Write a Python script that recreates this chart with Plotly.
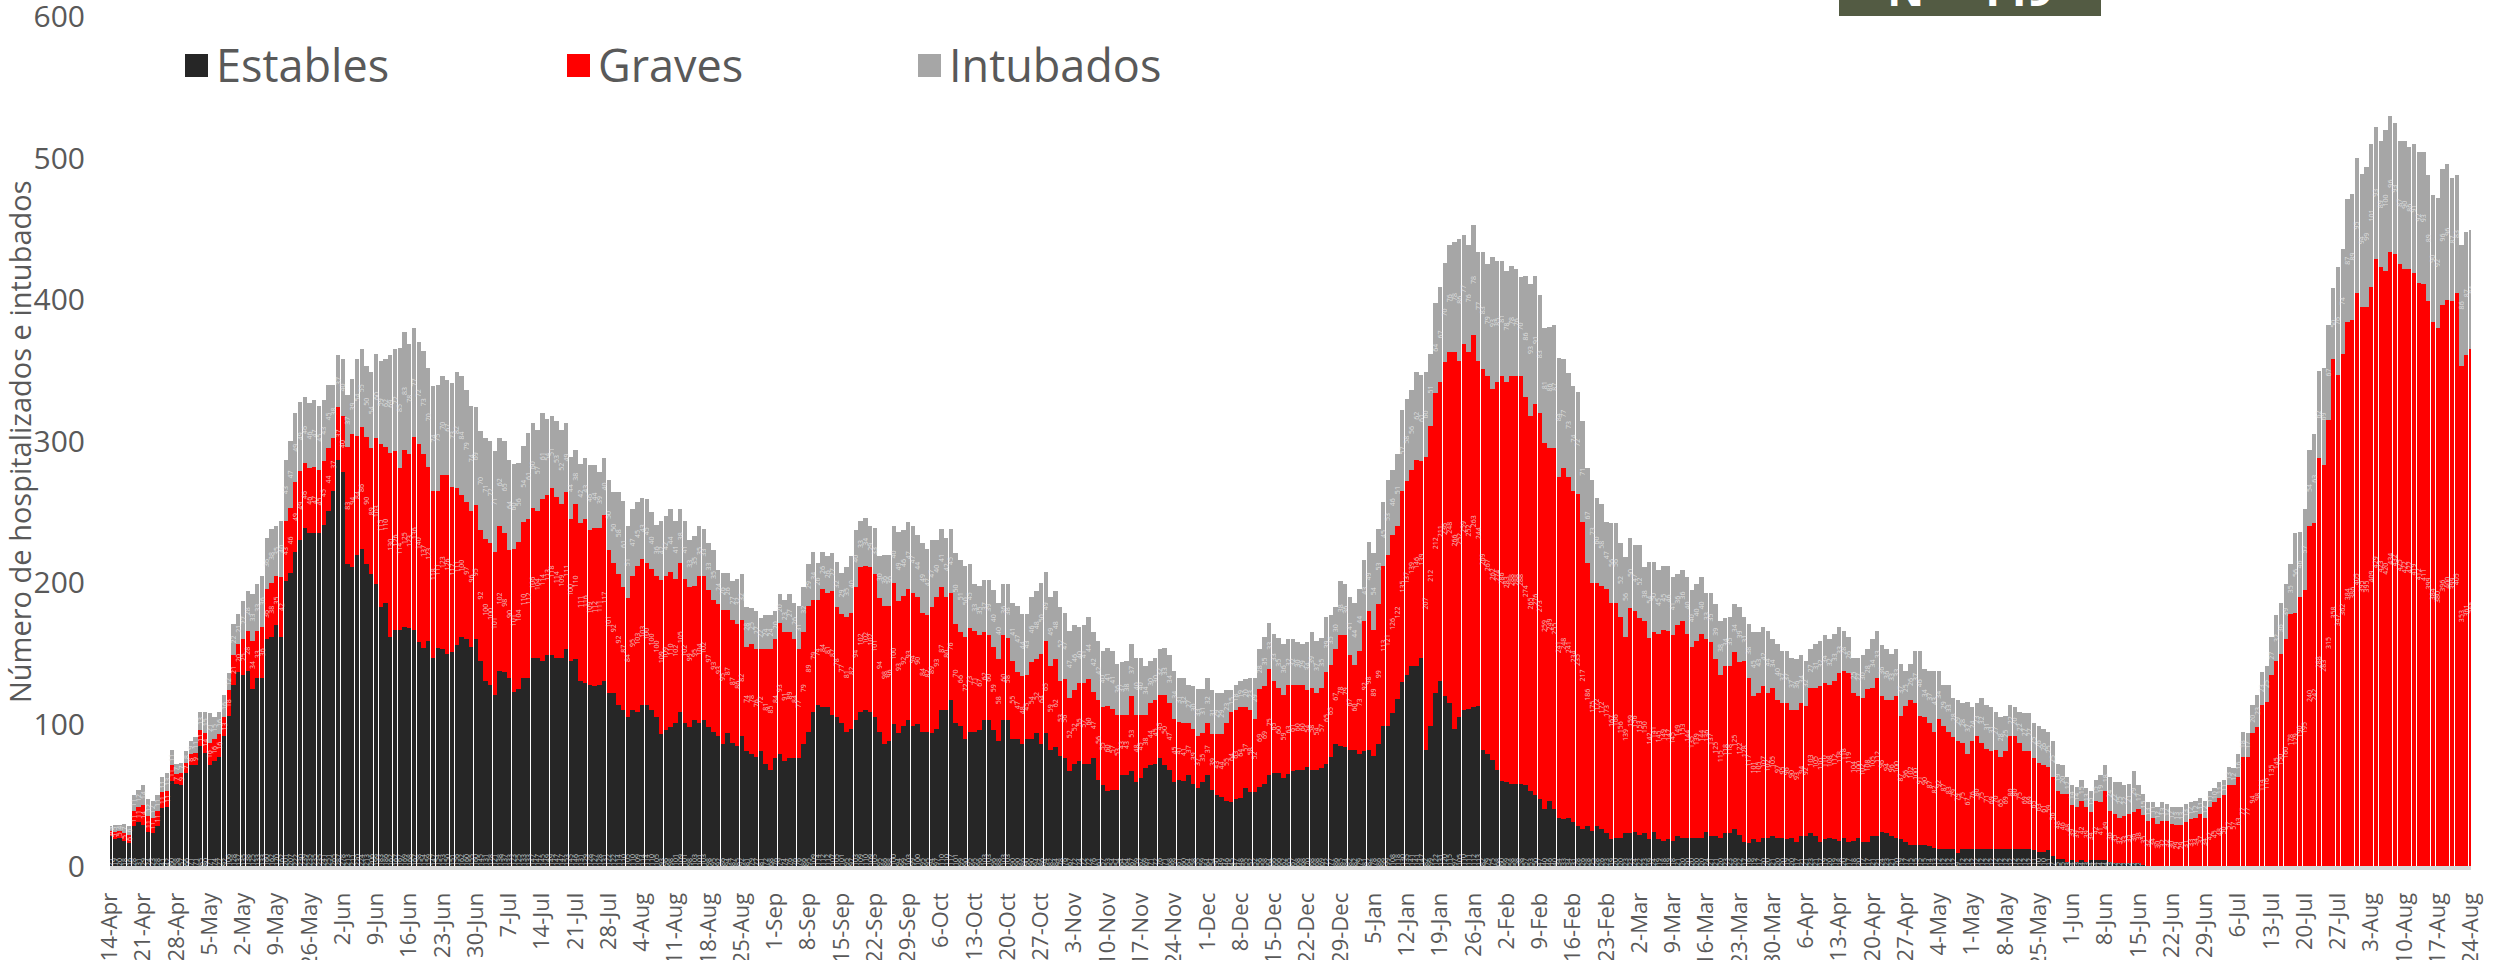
import datetime as dt
import plotly.graph_objects as go

start_date = "2020-04-14"

estables = [
    21, 19, 20, 18, 16, 28, 31,
    29, 24, 23, 28, 41, 42, 60,
    58, 57, 66, 71, 71, 85, 80,
    71, 74, 77, 92, 106, 128, 137,
    135, 138, 125, 133, 133, 160, 162,
    170, 162, 201, 207, 222, 230, 239,
    235, 235, 235, 241, 251, 265, 287,
    278, 213, 211, 220, 224, 213, 206,
    199, 183, 186, 162, 167, 167, 169,
    168, 167, 158, 154, 159, 147, 154,
    153, 150, 151, 156, 162, 160, 155,
    160, 145, 131, 128, 121, 138, 137,
    133, 123, 125, 133, 133, 147, 147,
    145, 149, 149, 147, 147, 153, 145,
    146, 131, 129, 128, 127, 128, 131,
    122, 122, 114, 110, 105, 110, 109,
    114, 114, 110, 105, 93, 96, 98,
    101, 109, 101, 98, 103, 101, 103,
    98, 95, 92, 86, 94, 87, 85,
    92, 81, 79, 77, 81, 72, 68,
    76, 79, 74, 76, 76, 76, 86,
    95, 109, 114, 112, 112, 107, 105,
    101, 95, 97, 103, 109, 110, 109,
    105, 95, 86, 88, 100, 94, 99,
    103, 99, 100, 95, 95, 94, 97,
    110, 110, 117, 101, 99, 90, 95,
    95, 96, 103, 103, 96, 88, 103,
    103, 90, 90, 86, 90, 90, 94,
    86, 94, 82, 84, 78, 76, 67,
    72, 74, 72, 72, 76, 61, 57,
    53, 54, 54, 64, 64, 67, 59,
    62, 69, 71, 72, 76, 71, 68,
    59, 61, 60, 64, 58, 55, 59,
    64, 54, 50, 49, 46, 45, 47,
    48, 55, 52, 52, 56, 58, 64,
    66, 66, 62, 65, 67, 68, 68,
    70, 68, 68, 69, 72, 77, 86,
    85, 84, 82, 82, 79, 81, 82,
    78, 86, 99, 99, 108, 118, 130,
    135, 141, 141, 147, 82, 99, 122,
    131, 120, 115, 97, 105, 110, 111,
    112, 113, 82, 79, 75, 68, 60,
    59, 58, 58, 58, 57, 53, 50,
    47, 40, 46, 40, 34, 33, 34,
    31, 28, 26, 28, 25, 28, 26,
    23, 19, 20, 20, 23, 23, 24,
    22, 23, 19, 24, 19, 18, 19,
    18, 21, 20, 20, 20, 20, 20,
    24, 21, 21, 20, 23, 23, 26,
    22, 17, 16, 19, 17, 20, 20,
    21, 20, 20, 19, 20, 17, 21,
    21, 23, 21, 17, 19, 20, 19,
    18, 20, 17, 18, 20, 17, 17,
    21, 21, 24, 23, 21, 20, 19,
    17, 15, 15, 15, 15, 14, 13,
    12, 12, 12, 12, 9, 12, 12,
    12, 12, 12, 12, 12, 12, 12,
    12, 12, 12, 12, 12, 12, 11,
    10, 10, 11, 7, 5, 5, 3,
    4, 3, 4, 3, 4, 4, 4,
    4, 3, 2, 2, 2, 2, 2,
    2, 1, 0, 0, 0, 0, 0,
    0, 0, 0, 0, 0, 0, 0,
    0, 0, 0, 0, 0, 0, 0,
    0, 0, 0, 0, 0, 0, 0,
    0, 0, 0, 0, 0, 0, 0,
    0, 0, 0, 0, 0, 0, 0,
    0, 0, 0, 0, 0, 0, 0,
    0, 0, 0, 0, 0, 0, 0,
    0, 0, 0, 0, 0, 0, 0,
    0, 0, 0, 0, 0, 0, 0,
    0,
]

graves = [
    4, 5, 5, 5, 6, 11, 11,
    14, 11, 11, 11, 11, 11, 11,
    7, 9, 7, 8, 9, 11, 14,
    16, 16, 16, 13, 18, 21, 20,
    25, 28, 34, 33, 36, 36, 38,
    35, 42, 43, 46, 49, 49, 46,
    46, 47, 45, 45, 44, 37, 37,
    40, 83, 94, 84, 86, 90, 89,
    103, 115, 110, 130, 126, 114, 125,
    123, 136, 140, 137, 123, 118, 111,
    123, 126, 117, 111, 100, 97, 96,
    95, 92, 100, 100, 101, 102, 98,
    90, 101, 104, 110, 112, 106, 104,
    114, 113, 118, 114, 109, 111, 100,
    110, 111, 116, 109, 112, 111, 117,
    101, 92, 92, 87, 84, 95, 103,
    103, 100, 100, 100, 109, 109, 110,
    102, 105, 102, 99, 95, 104, 102,
    97, 93, 93, 95, 87, 87, 86,
    82, 74, 78, 76, 72, 81, 85,
    84, 93, 91, 89, 84, 77, 79,
    89, 79, 74, 84, 81, 87, 78,
    77, 81, 82, 94, 102, 102, 102,
    101, 94, 98, 96, 100, 93, 92,
    93, 94, 90, 84, 82, 89, 93,
    87, 80, 76, 70, 66, 72, 73,
    71, 67, 62, 60, 59, 58, 60,
    58, 55, 47, 48, 45, 54, 52,
    64, 65, 59, 62, 53, 56, 52,
    52, 55, 57, 60, 47, 56, 55,
    60, 57, 53, 43, 43, 53, 48,
    45, 38, 44, 45, 45, 50, 47,
    45, 41, 41, 37, 39, 37, 35,
    37, 39, 43, 44, 55, 64, 63,
    64, 57, 58, 52, 69, 69, 75,
    65, 60, 59, 63, 61, 60, 60,
    54, 58, 54, 57, 65, 65, 67,
    78, 79, 67, 60, 73, 92, 98,
    89, 99, 113, 121, 126, 122, 135,
    137, 139, 146, 139, 207, 212, 212,
    211, 236, 248, 266, 252, 259, 252,
    263, 244, 269, 267, 262, 274, 286,
    283, 288, 288, 288, 274, 265, 276,
    273, 259, 249, 255, 241, 248, 241,
    234, 235, 217, 186, 175, 172, 172,
    173, 167, 166, 156, 139, 159, 156,
    153, 150, 142, 141, 145, 149, 147,
    145, 149, 153, 144, 135, 139, 144,
    136, 137, 125, 115, 118, 118, 125,
    122, 128, 117, 101, 105, 107, 102,
    105, 97, 95, 96, 90, 93, 94,
    92, 103, 105, 110, 110, 108, 112,
    118, 118, 119, 104, 100, 102, 108,
    105, 112, 96, 94, 96, 100, 87,
    96, 102, 100, 91, 90, 87, 82,
    92, 87, 83, 79, 79, 75, 67,
    76, 80, 75, 71, 69, 70, 65,
    69, 80, 80, 75, 69, 69, 65,
    63, 61, 59, 56, 48, 46, 48,
    39, 39, 42, 39, 34, 42, 41,
    49, 36, 35, 32, 33, 35, 36,
    38, 35, 32, 34, 30, 32, 32,
    30, 29, 29, 31, 33, 34, 37,
    34, 42, 45, 48, 50, 57, 57,
    63, 77, 77, 94, 98, 114, 116,
    135, 145, 150, 160, 178, 179, 190,
    195, 240, 242, 288, 283, 315, 358,
    347, 362, 384, 386, 405, 395, 395,
    409, 429, 423, 420, 434, 432, 425,
    422, 422, 419, 412, 411, 399, 384,
    380, 396, 400, 399, 405, 353, 361,
    365,
]

intubados = [
    3, 5, 4, 7, 6, 11, 12,
    14, 12, 12, 11, 11, 13, 11,
    7, 7, 8, 9, 11, 13, 15,
    21, 15, 16, 16, 12, 22, 21,
    27, 28, 33, 33, 36, 36, 38,
    35, 40, 43, 47, 49, 49, 46,
    46, 47, 45, 43, 45, 38, 37,
    40, 37, 39, 54, 55, 50, 54,
    60, 59, 62, 69, 72, 85, 83,
    78, 77, 72, 73, 70, 74, 75,
    70, 67, 73, 82, 84, 79, 74,
    69, 70, 71, 72, 71, 62, 65,
    64, 60, 56, 54, 61, 60, 57,
    61, 54, 51, 53, 52, 49, 44,
    38, 42, 43, 46, 44, 39, 40,
    50, 50, 58, 61, 51, 47, 45,
    43, 45, 40, 36, 42, 42, 44,
    41, 38, 41, 33, 35, 35, 33,
    33, 35, 24, 26, 26, 27, 32,
    32, 28, 25, 27, 22, 24, 24,
    20, 20, 23, 27, 26, 31, 32,
    29, 34, 26, 26, 26, 27, 32,
    29, 35, 40, 40, 33, 34, 29,
    33, 30, 36, 36, 40, 49, 46,
    47, 47, 44, 49, 47, 47, 40,
    41, 42, 45, 50, 51, 50, 45,
    33, 35, 37, 39, 40, 40, 36,
    38, 41, 47, 44, 43, 46, 48,
    50, 49, 49, 48, 52, 47, 47,
    46, 40, 41, 44, 42, 42, 40,
    41, 41, 36, 37, 38, 37, 40,
    40, 34, 30, 30, 32, 33, 34,
    34, 31, 32, 27, 30, 33, 31,
    32, 31, 29, 29, 23, 15, 18,
    19, 20, 23, 29, 28, 35, 33,
    33, 35, 36, 32, 32, 30, 29,
    34, 39, 37, 35, 39, 35, 30,
    38, 36, 41, 44, 44, 43, 49,
    54, 53, 45, 53, 46, 51, 57,
    58, 56, 62, 61, 60, 51, 64,
    67, 70, 76, 78, 86, 77, 76,
    78, 77, 83, 79, 93, 85, 81,
    78, 78, 76, 70, 86, 93, 91,
    83, 81, 86, 87, 84, 77, 73,
    74, 72, 71, 67, 73, 60, 58,
    47, 56, 56, 52, 56, 50, 47,
    52, 38, 54, 50, 45, 45, 46,
    41, 36, 36, 40, 40, 40, 40,
    33, 35, 39, 38, 34, 35, 34,
    39, 31, 38, 45, 43, 42, 44,
    34, 40, 37, 37, 37, 36, 34,
    32, 27, 31, 32, 34, 32, 33,
    33, 28, 26, 25, 27, 30, 28,
    34, 33, 36, 36, 33, 33, 37,
    25, 26, 37, 46, 34, 37, 43,
    34, 29, 33, 28, 29, 28, 37,
    24, 23, 32, 31, 31, 27, 28,
    25, 22, 20, 22, 27, 27, 25,
    26, 26, 25, 25, 19, 20, 12,
    14, 14, 15, 13, 15, 15, 19,
    18, 24, 22, 25, 22, 21, 29,
    17, 15, 13, 11, 12, 13, 12,
    12, 13, 13, 13, 12, 12, 11,
    12, 11, 10, 11, 11, 13, 12,
    16, 18, 17, 20, 23, 23, 25,
    27, 32, 36, 39, 35, 56, 46,
    57, 54, 63, 62, 69, 67, 50,
    76, 74, 87, 89, 95, 94, 99,
    101, 93, 89, 100, 96, 93, 87,
    90, 86, 91, 92, 93, 89, 90,
    92, 96, 96, 87, 83, 86, 87,
    84,
]

series_names = ["Estables", "Graves", "Intubados"]
series_colors = ["#262626", "#ff0000", "#a6a6a6"]
total_label = "N = 449"
y_title = "Número de hospitalizados e intubados"
y_ticks = [0, 100, 200, 300, 400, 500, 600]

d0 = dt.date.fromisoformat(start_date)
dates = [(d0 + dt.timedelta(days=i)).isoformat() for i in range(len(estables))]

FONT = "Open Sans"
GREY_TXT = "#595959"
LABEL_COL = "rgba(235,235,235,0.8)"

fig = go.Figure()
for name, vals, col, anchor in zip(series_names, [estables, graves, intubados],
                                   series_colors, ["start", "middle", "middle"]):
    fig.add_trace(go.Bar(
        x=dates, y=vals, name=name,
        marker=dict(color=col, line=dict(width=0)),
        text=[str(v) for v in vals],
        textposition="inside", insidetextanchor=anchor,
        textangle=-90, constraintext="none",
        textfont=dict(family=FONT, size=7, color=LABEL_COL),
        showlegend=False,
    ))

# plot area in window pixels (body margin is removed by the post script)
PX0, PX1, PY0, PY1 = 110, 2471, 16, 866
L, T = PX0, PY0
R, B = 2499 - PX1, 960 - PY1
W, H = PX1 - PX0, PY1 - PY0

def px(x):
    return (x - PX0) / W

def py(y):
    return (PY1 - y) / H

shapes = []
annotations = []
legend_x = [185, 567, 918]
for name, col, lx in zip(series_names, series_colors, legend_x):
    shapes.append(dict(type="rect", xref="paper", yref="paper",
                       x0=px(lx), x1=px(lx + 23), y0=py(77), y1=py(54),
                       fillcolor=col, line=dict(width=0)))
    annotations.append(dict(xref="paper", yref="paper", x=px(lx + 29), y=py(64),
                            xanchor="left", yanchor="middle", showarrow=False,
                            text=name, font=dict(family=FONT, size=45, color=GREY_TXT)))

# y-axis title
annotations.append(dict(xref="paper", yref="paper", x=px(19), y=py(442),
                        xanchor="center", yanchor="middle", showarrow=False,
                        textangle=-90, text=y_title,
                        font=dict(family=FONT, size=29, color=GREY_TXT)))

# N box at the top, partially outside the page
shapes.append(dict(type="rect", xref="paper", yref="paper",
                   x0=px(1839), x1=px(2101), y0=py(16), y1=py(-60),
                   fillcolor="#535b43", line=dict(width=0)))
annotations.append(dict(xref="paper", yref="paper", x=px(1970), y=py(-12),
                        xanchor="center", yanchor="middle", showarrow=False,
                        text="<b>" + total_label + "</b>",
                        font=dict(family=FONT, size=46, color="white")))

fig.update_layout(
    barmode="stack",
    bargap=0.07,
    width=2499, height=960,
    margin=dict(l=L, r=R, t=T, b=B, autoexpand=False),
    paper_bgcolor="white", plot_bgcolor="white",
    font=dict(family=FONT, color=GREY_TXT),
    shapes=shapes, annotations=annotations,
    xaxis=dict(
        type="date",
        range=[(d0 - dt.timedelta(hours=12)).isoformat(),
               (d0 + dt.timedelta(days=len(estables) - 1, hours=12)).isoformat()],
        tick0=start_date, dtick=7 * 86400000, tickformat="%-d-%b",
        tickangle=-90, tickfont=dict(size=22, color=GREY_TXT),
        showgrid=False, zeroline=False,
        showline=True, linecolor="#d9d9d9", linewidth=4,
        ticks="", ticklabelstandoff=14,
    ),
    yaxis=dict(
        range=[0, 600.4], tickmode="array", tickvals=y_ticks,
        showgrid=False, zeroline=False, showline=False,
        ticks="outside", ticklen=18, tickcolor="rgba(0,0,0,0)",
        ticklabeloverflow="allow",
        tickfont=dict(size=30, color=GREY_TXT),
    ),
)

fig.write_html("out.html",
               config={"displayModeBar": False},
               post_script="document.body.style.margin='0';"
                           "document.body.style.overflow='hidden';")
